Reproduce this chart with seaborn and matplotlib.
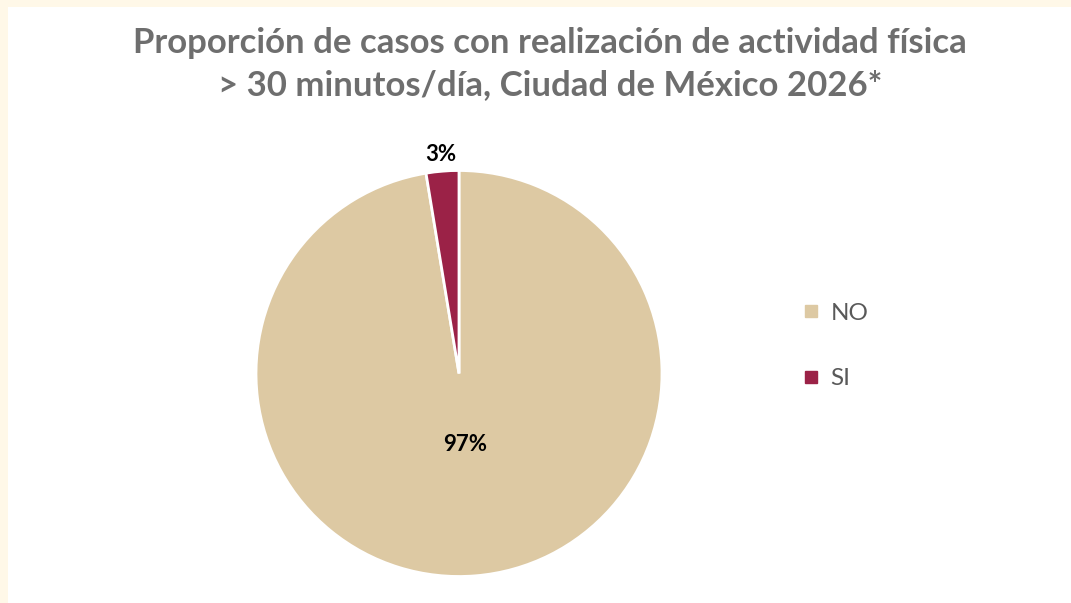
import matplotlib
matplotlib.use("Agg")
import matplotlib.pyplot as plt
from matplotlib.lines import Line2D
from matplotlib.patches import Rectangle
import numpy as np
import seaborn as sns

categories = ["NO", "SI"]
values = [97.4, 2.6]
colors = ["#DDC9A3", "#9B2247"]
title = "Proporción de casos con realización de actividad física\n> 30 minutos/día, Ciudad de México 2026*"

sns.set_theme(style="white")
plt.rcParams['font.family'] = ['Lato', 'DejaVu Sans']

W, H = 1071, 603
fig = plt.figure(figsize=(W / 100, H / 100), dpi=100)
fig.patch.set_facecolor("#FFF8E8")
fig.patches.append(Rectangle((8 / W, 0), 1, (H - 7) / H, transform=fig.transFigure,
                             facecolor="white", edgecolor="none", zorder=-5))

cx, cy, r = 459, 373.5, 203
ax = fig.add_axes([(cx - r) / W, (H - cy - r) / H, 2 * r / W, 2 * r / H])
ax.set_zorder(2)
wedges, texts, autotexts = ax.pie(values, colors=colors, startangle=90, counterclock=False,
                                  autopct='%.0f%%', pctdistance=0.35,
                                  wedgeprops=dict(edgecolor="white", linewidth=2),
                                  textprops=dict(fontsize=16, fontweight="bold", color="black"))
ax.set_xlim(-1, 1)
ax.set_ylim(-1, 1)
ax.set_aspect("equal")
ax.axis("off")

# move small slice label outside
w = wedges[1]
ang = np.deg2rad((w.theta1 + w.theta2) / 2)
autotexts[1].set_position((1.08 * np.cos(ang), 1.08 * np.sin(ang)))

fig.text(550 / W, 1 - 64 / H, title, ha="center", va="center", fontsize=25,
         fontweight="bold", color="#6E6E6E", linespacing=1.35)

handles = [Line2D([], [], marker="s", ls="", color=c, markersize=9) for c in colors]
leg = fig.legend(handles, categories, loc="center left", bbox_to_anchor=(777 / W, 1 - 346 / H),
                 frameon=False, fontsize=17.5, labelspacing=1.85, handletextpad=0.3,
                 handlelength=1.0)
for t in leg.get_texts():
    t.set_color("#595959")

fig.savefig("out.png", dpi=100, facecolor=fig.get_facecolor())
